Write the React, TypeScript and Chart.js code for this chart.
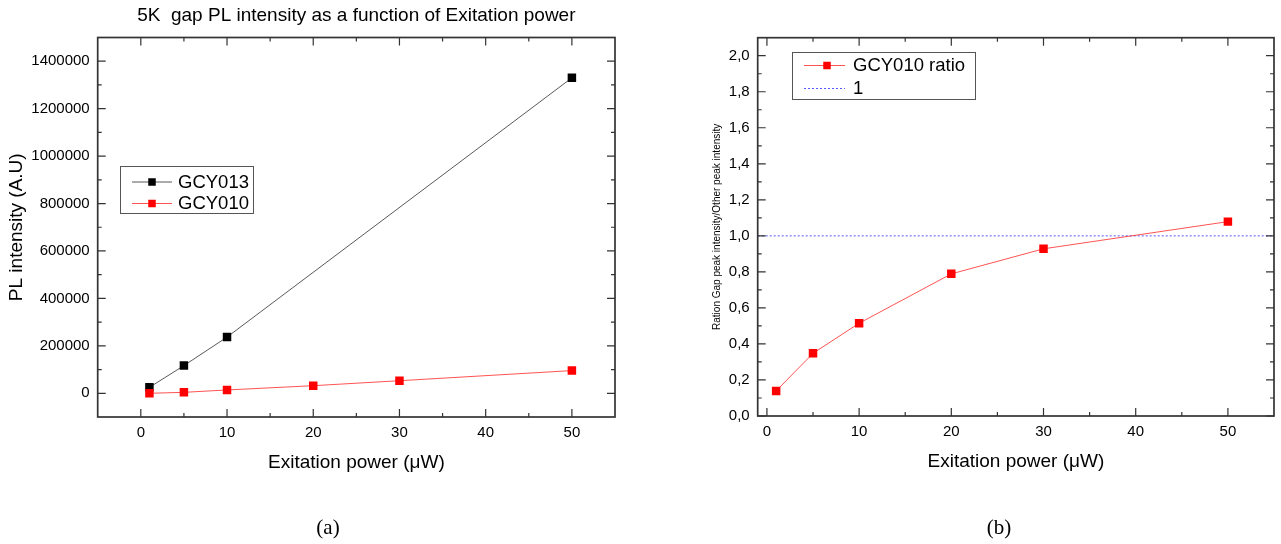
import React, { useEffect, useRef } from "react";
import { Chart, registerables } from "chart.js";

Chart.register(...registerables);

// ---------- data (a) ----------
const POWER_GCY013 = [1, 5, 10, 50];
const GCY013_VALUES = [25000, 116700, 236800, 1330000];
const POWER_GCY010 = [1, 5, 10, 20, 30, 50];
const GCY010_VALUES = [0, 4000, 14000, 32000, 53000, 95600];

// ---------- data (b) ----------
const POWER_RATIO = [1, 5, 10, 20, 30, 50];
const RATIO_VALUES = [0.139, 0.348, 0.515, 0.789, 0.928, 1.079];
const REF_LINE_X = [-1, 55];
const REF_LINE_Y = [1, 1];

// ---------- ticks ----------
const A_X_MAJOR = [0, 10, 20, 30, 40, 50];
const A_X_MINOR = [5, 15, 25, 35, 45];
const A_X_LABELS = ["0", "10", "20", "30", "40", "50"];
const A_Y_MAJOR = [0, 200000, 400000, 600000, 800000, 1000000, 1200000, 1400000];
const A_Y_MINOR = [100000, 300000, 500000, 700000, 900000, 1100000, 1300000];
const A_Y_LABELS = ["0", "200000", "400000", "600000", "800000", "1000000", "1200000", "1400000"];

const B_X_MAJOR = [0, 10, 20, 30, 40, 50];
const B_X_MINOR = [5, 15, 25, 35, 45];
const B_X_LABELS = ["0", "10", "20", "30", "40", "50"];
const B_Y_MAJOR = [0, 0.2, 0.4, 0.6, 0.8, 1.0, 1.2, 1.4, 1.6, 1.8, 2.0];
const B_Y_MINOR = [0.1, 0.3, 0.5, 0.7, 0.9, 1.1, 1.3, 1.5, 1.7, 1.9];
const B_Y_LABELS = ["0,0", "0,2", "0,4", "0,6", "0,8", "1,0", "1,2", "1,4", "1,6", "1,8", "2,0"];

const SANS = "'Liberation Sans', Arial, sans-serif";

const zip = (xs: number[], ys: number[]) => xs.map((x, i) => ({ x, y: ys[i] }));

const framePlugin = {
  id: "frame",
  afterDatasetsDraw(chart: any, _args: any, opts: any) {
    const { ctx, chartArea: a, scales } = chart;
    const xs = scales.x;
    const ys = scales.y;
    ctx.save();
    ctx.strokeStyle = "#333";
    ctx.lineWidth = 1.2;
    ctx.beginPath();
    const xTick = (v: number, len: number) => {
      const px = xs.getPixelForValue(v);
      ctx.moveTo(px, a.bottom);
      ctx.lineTo(px, a.bottom - len);
      ctx.moveTo(px, a.top);
      ctx.lineTo(px, a.top + len);
    };
    const yTick = (v: number, len: number) => {
      const py = ys.getPixelForValue(v);
      ctx.moveTo(a.left, py);
      ctx.lineTo(a.left + len, py);
      ctx.moveTo(a.right, py);
      ctx.lineTo(a.right - len, py);
    };
    opts.xMajor.forEach((v: number) => xTick(v, 8));
    opts.xMinor.forEach((v: number) => xTick(v, 4));
    opts.yMajor.forEach((v: number) => yTick(v, 8));
    opts.yMinor.forEach((v: number) => yTick(v, 4));
    ctx.stroke();
    ctx.lineWidth = 1.7;
    ctx.strokeRect(a.left, a.top, a.right - a.left, a.bottom - a.top);
    ctx.restore();
  },
};

const legendBoxPlugin = {
  id: "legendBox",
  afterDraw(chart: any, _args: any, opts: any) {
    const { ctx } = chart;
    ctx.save();
    ctx.fillStyle = "#fff";
    ctx.fillRect(opts.left, opts.top, opts.width, opts.height);
    ctx.strokeStyle = "#555";
    ctx.lineWidth = 1;
    ctx.strokeRect(opts.left + 0.5, opts.top + 0.5, opts.width, opts.height);
    chart.data.datasets.forEach((ds: any, i: number) => {
      const y = opts.rows[i];
      ctx.save();
      ctx.strokeStyle = ds.borderColor;
      ctx.lineWidth = 1;
      ctx.setLineDash(ds.borderDash || []);
      ctx.beginPath();
      ctx.moveTo(opts.lineX0, y + 0.5);
      ctx.lineTo(opts.lineX1, y + 0.5);
      ctx.stroke();
      ctx.restore();
      if (ds.pointRadius > 0) {
        const s = opts.marker;
        ctx.fillStyle = ds.pointBackgroundColor;
        ctx.fillRect(opts.markerX - s / 2, y - s / 2 + 0.5, s, s);
      }
      ctx.fillStyle = "#000";
      ctx.font = `${opts.fontSize}px ${SANS}`;
      ctx.textBaseline = "middle";
      ctx.textAlign = "left";
      ctx.fillText(ds.label, opts.textX, y + 1);
    });
    ctx.restore();
  },
};

function makeAxis(
  min: number,
  max: number,
  major: number[],
  labels: string[],
  fit: (s: any) => void,
  title: string,
  titleFont: number,
  titlePadding: any,
  tickPadding: number
) {
  return {
    type: "linear",
    min,
    max,
    afterBuildTicks: (s: any) => {
      s.ticks = major.map((v) => ({ value: v }));
    },
    afterFit: fit,
    grid: { display: false, drawTicks: false },
    border: { display: false },
    ticks: {
      autoSkip: false,
      maxRotation: 0,
      padding: tickPadding,
      color: "#000",
      font: { family: SANS, size: 15 },
      callback: (_v: any, i: number) => labels[i],
    },
    title: {
      display: true,
      text: title,
      color: "#000",
      font: { family: SANS, size: titleFont },
      padding: titlePadding,
    },
  };
}

function ChartA() {
  const ref = useRef<HTMLCanvasElement | null>(null);
  useEffect(() => {
    const chart = new Chart(ref.current as HTMLCanvasElement, {
      type: "scatter",
      data: {
        datasets: [
          {
            label: "GCY013",
            data: zip(POWER_GCY013, GCY013_VALUES),
            showLine: true,
            borderColor: "rgba(60,60,60,0.85)",
            borderWidth: 1,
            pointStyle: "rect",
            pointRadius: 6,
            pointBackgroundColor: "#000",
            pointBorderColor: "#000",
            pointBorderWidth: 0,
            order: 1,
          },
          {
            label: "GCY010",
            data: zip(POWER_GCY010, GCY010_VALUES),
            showLine: true,
            borderColor: "rgba(255,40,40,0.8)",
            borderWidth: 1,
            pointStyle: "rect",
            pointRadius: 6,
            pointBackgroundColor: "#ff0000",
            pointBorderColor: "#ff0000",
            pointBorderWidth: 0,
            order: 0,
          },
        ] as any,
      },
      options: {
        animation: false,
        responsive: false,
        devicePixelRatio: 1,
        events: [],
        layout: { padding: { left: 0, right: 25, top: 0, bottom: 66 } },
        plugins: {
          legend: { display: false },
          tooltip: { enabled: false },
          title: {
            display: true,
            fullSize: false,
            text: "5K  gap PL intensity as a function of Exitation power",
            color: "#000",
            font: { family: SANS, size: 19, weight: "normal" },
            padding: { top: 4, bottom: 10.7 },
          },
          frame: { xMajor: A_X_MAJOR, xMinor: A_X_MINOR, yMajor: A_Y_MAJOR, yMinor: A_Y_MINOR },
          legendBox: {
            left: 120, top: 166, width: 133, height: 47,
            rows: [181.5, 203], lineX0: 132, lineX1: 172, markerX: 152, marker: 7.5,
            textX: 178, fontSize: 18.5,
          },
        } as any,
        scales: {
          x: makeAxis(-5, 55, A_X_MAJOR, A_X_LABELS, (s: any) => { s.height = 61; }, "Exitation power (\u03bcW)", 19, { top: 0, bottom: 4 }, 7),
          y: makeAxis(-100000, 1500000, A_Y_MAJOR, A_Y_LABELS, (s: any) => { s.width = 97.7; }, "PL intensity (A.U)", 19, { top: 5.6, bottom: 0 }, 8),
        } as any,
      },
      plugins: [framePlugin, legendBoxPlugin],
    });
    return () => chart.destroy();
  }, []);
  return <canvas ref={ref} width={640} height={544} style={{ position: "absolute", left: 0, top: 0 }} />;
}

function ChartB() {
  const ref = useRef<HTMLCanvasElement | null>(null);
  useEffect(() => {
    const chart = new Chart(ref.current as HTMLCanvasElement, {
      type: "scatter",
      data: {
        datasets: [
          {
            label: "GCY010 ratio",
            data: zip(POWER_RATIO, RATIO_VALUES),
            showLine: true,
            borderColor: "rgba(255,40,40,0.8)",
            borderWidth: 1,
            pointStyle: "rect",
            pointRadius: 6,
            pointBackgroundColor: "#ff0000",
            pointBorderColor: "#ff0000",
            pointBorderWidth: 0,
            order: 0,
          },
          {
            label: "1",
            data: zip(REF_LINE_X, REF_LINE_Y),
            showLine: true,
            borderColor: "rgba(70,70,255,0.9)",
            borderWidth: 1,
            borderDash: [2, 2],
            pointRadius: 0,
            order: 1,
          },
        ] as any,
      },
      options: {
        animation: false,
        responsive: false,
        devicePixelRatio: 1,
        events: [],
        layout: { padding: { left: 0, right: 7, top: 37.7, bottom: 67 } },
        plugins: {
          legend: { display: false },
          tooltip: { enabled: false },
          frame: { xMajor: B_X_MAJOR, xMinor: B_X_MINOR, yMajor: B_Y_MAJOR, yMinor: B_Y_MINOR },
          legendBox: {
            left: 152, top: 52, width: 183, height: 47,
            rows: [65, 88], lineX0: 164, lineX1: 205, markerX: 187, marker: 7.5,
            textX: 213, fontSize: 18.5,
          },
        } as any,
        scales: {
          x: makeAxis(-1, 55, B_X_MAJOR, B_X_LABELS, (s: any) => { s.height = 61; }, "Exitation power (\u03bcW)", 19, { top: 0, bottom: 4 }, 7),
          y: makeAxis(0, 2.1, B_Y_MAJOR, B_Y_LABELS, (s: any) => { s.width = 117.7; }, "Ration Gap peak intensity/Other peak intensity", 10, { top: 71.3, bottom: 0 }, 8),
        } as any,
      },
      plugins: [framePlugin, legendBoxPlugin],
    });
    return () => chart.destroy();
  }, []);
  return <canvas ref={ref} width={641} height={544} style={{ position: "absolute", left: 640, top: 0 }} />;
}

const captionStyle: React.CSSProperties = {
  position: "absolute",
  top: 514,
  width: 100,
  textAlign: "center",
  fontFamily: "'Liberation Serif', 'DejaVu Serif', serif",
  fontSize: 21,
  lineHeight: "26px",
  color: "#000",
};

export default function App() {
  return (
    <div style={{ position: "absolute", left: 0, top: 0, width: 1281, height: 544, background: "#fff", overflow: "hidden" }}>
      <ChartA />
      <ChartB />
      <div style={{ ...captionStyle, left: 328 - 50 }}>(a)</div>
      <div style={{ ...captionStyle, left: 999 - 50 }}>(b)</div>
    </div>
  );
}
